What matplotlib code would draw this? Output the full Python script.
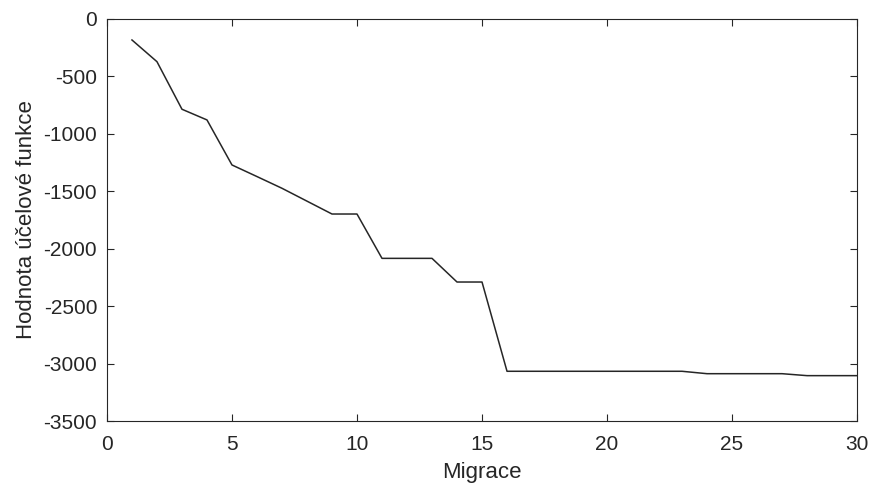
import matplotlib
matplotlib.use('Agg')
import matplotlib.pyplot as plt

# migration index and best objective value
migrace = list(range(1, 31))
hodnota = [-183, -372, -786, -879, -1271, -1372, -1474, -1586, -1698, -1698,
           -2084, -2084, -2084, -2290, -2290, -3067, -3067, -3067, -3067, -3067,
           -3067, -3067, -3067, -3088, -3088, -3088, -3088, -3105, -3105, -3105]

plt.rcParams['font.family'] = ['Liberation Sans', 'DejaVu Sans']
plt.rcParams['axes.unicode_minus'] = False

fig = plt.figure(figsize=(8.71, 4.86), dpi=100)
ax = fig.add_axes([0.1228, 0.1337, 0.8612, 0.8273])

ax.plot(migrace, hodnota, color='#262626', linewidth=1.1)

ax.set_xlim(0, 30)
ax.set_ylim(-3500, 0)
ax.set_xticks(range(0, 31, 5))
ax.set_yticks(range(-3500, 1, 500))

ax.tick_params(direction='in', top=True, right=True, length=5, width=0.8,
               labelsize=15, colors='#262626')
ax.tick_params(axis='x', pad=10)
ax.tick_params(axis='y', pad=7)
for s in ax.spines.values():
    s.set_color('#262626')
    s.set_linewidth(0.8)

ax.set_xlabel('Migrace', fontsize=16, color='#262626', labelpad=6)
ax.set_ylabel('Hodnota účelové funkce', fontsize=16, color='#262626', labelpad=5)

fig.savefig('out.png', dpi=100)
